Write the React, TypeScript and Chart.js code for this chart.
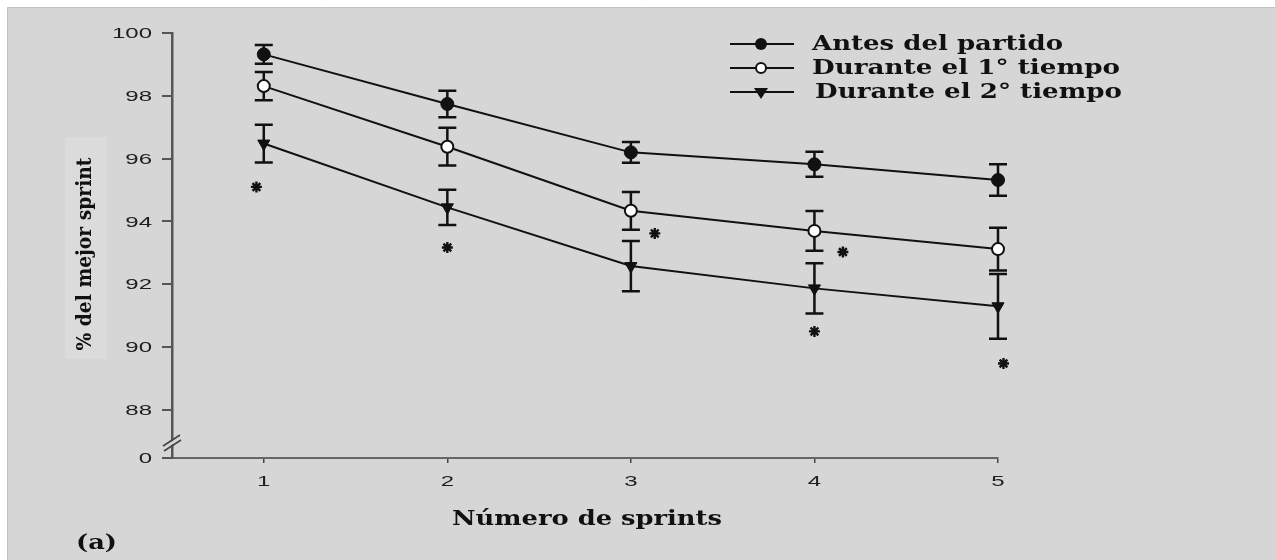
import { useEffect, useRef } from 'react';
import { Chart, registerables } from 'chart.js';

Chart.register(...registerables);

// ---- data ----
const sprints = [1, 2, 3, 4, 5];
const antesMean = [99.32, 97.74, 96.2, 95.82, 95.32];
const antesErr = [0.3, 0.42, 0.33, 0.4, 0.5];
const primerMean = [98.31, 96.38, 94.34, 93.7, 93.12];
const primerErr = [0.45, 0.6, 0.6, 0.63, 0.68];
const segundoMean = [96.48, 94.45, 92.58, 91.87, 91.3];
const segundoErr = [0.6, 0.56, 0.8, 0.8, 1.03];
const asteriskX = [0.96, 2.0, 3.13, 4.155, 4.0, 5.11, 5.03];
const asteriskY = [95.1, 93.17, 93.62, 93.03, 90.5, 92.7, 89.48];
const yTickValues = [88, 90, 92, 94, 96, 98, 100];
const yBreakValue = 86.47; // bottom of the broken axis, labelled "0"
const yBreakLabel = '0';
const xTickValues = [1, 2, 3, 4, 5];
const seriesLabels = ['Antes del partido', 'Durante el 1° tiempo', 'Durante el 2° tiempo'];
const xTitle = 'Número de sprints';
const yTitle = '% del mejor sprint';
const panelLabel = '(a)';

const BG = '#d6d6d6';
const SERIF = '"DejaVu Serif", "Liberation Serif", serif';
const SANS = '"Liberation Sans", Arial, sans-serif';

function drawStretched(
  ctx: CanvasRenderingContext2D,
  text: string,
  x: number,
  y: number,
  font: string,
  opts: { width?: number; scale?: number; align?: CanvasTextAlign; rotate?: number; color?: string }
) {
  ctx.save();
  ctx.font = font;
  const w = ctx.measureText(text).width;
  const s = opts.width ? opts.width / w : opts.scale || 1;
  ctx.translate(x, y);
  if (opts.rotate) ctx.rotate(opts.rotate);
  ctx.scale(s, 1);
  ctx.textAlign = opts.align || 'left';
  ctx.textBaseline = 'middle';
  ctx.fillStyle = opts.color || '#111';
  ctx.fillText(text, 0, 0);
  ctx.restore();
}

const decorPlugin = {
  id: 'decor',
  beforeDraw(chart: any) {
    const ctx: CanvasRenderingContext2D = chart.ctx;
    ctx.save();
    ctx.fillStyle = '#ffffff';
    ctx.fillRect(0, 0, chart.width, chart.height);
    ctx.fillStyle = BG;
    ctx.fillRect(7, 7, chart.width - 7, chart.height - 7);
    ctx.strokeStyle = '#c2c2c2';
    ctx.lineWidth = 1;
    ctx.beginPath();
    ctx.moveTo(7.5, chart.height);
    ctx.lineTo(7.5, 7.5);
    ctx.lineTo(chart.width, 7.5);
    ctx.stroke();
    // light box behind y title
    ctx.fillStyle = '#dbdbdb';
    ctx.fillRect(65, 137, 42, 222);
    ctx.restore();
  },
  beforeDatasetsDraw(chart: any) {
    const ctx: CanvasRenderingContext2D = chart.ctx;
    const xs = chart.scales.x;
    const ys = chart.scales.y;
    const groups = [
      [antesMean, antesErr],
      [primerMean, primerErr],
      [segundoMean, segundoErr],
    ];
    ctx.save();
    ctx.strokeStyle = '#111';
    ctx.lineWidth = 2.5;
    groups.forEach(([m, e]) => {
      sprints.forEach((sx, i) => {
        const px = xs.getPixelForValue(sx);
        const top = ys.getPixelForValue(m[i] + e[i]);
        const bot = ys.getPixelForValue(m[i] - e[i]);
        ctx.beginPath();
        ctx.moveTo(px, top);
        ctx.lineTo(px, bot);
        ctx.moveTo(px - 9, top);
        ctx.lineTo(px + 9, top);
        ctx.moveTo(px - 9, bot);
        ctx.lineTo(px + 9, bot);
        ctx.stroke();
      });
    });
    ctx.restore();
  },
  afterDraw(chart: any) {
    const ctx: CanvasRenderingContext2D = chart.ctx;
    const xs = chart.scales.x;
    const ys = chart.scales.y;
    const area = chart.chartArea;

    // y tick labels
    const yLabels = [yBreakLabel, ...yTickValues.map(String)];
    const yVals = [yBreakValue, ...yTickValues];
    yVals.forEach((v, i) => {
      drawStretched(ctx, yLabels[i], area.left - 20, ys.getPixelForValue(v) + 1, `15px ${SANS}`, {
        scale: 1.6,
        align: 'right',
        color: '#1e1e1e',
      });
    });
    // x tick labels
    xTickValues.forEach((v) => {
      drawStretched(ctx, String(v), xs.getPixelForValue(v), area.bottom + 24, `15px ${SANS}`, {
        scale: 1.6,
        align: 'center',
        color: '#1e1e1e',
      });
    });

    // axis break marks
    ctx.save();
    const ax = area.left;
    ctx.strokeStyle = BG;
    ctx.lineWidth = 3;
    ctx.beginPath();
    ctx.moveTo(ax - 8, 448);
    ctx.lineTo(ax + 8, 438);
    ctx.stroke();
    ctx.strokeStyle = '#444';
    ctx.lineWidth = 1.6;
    ctx.beginPath();
    ctx.moveTo(ax - 9, 446);
    ctx.lineTo(ax + 8, 435);
    ctx.moveTo(ax - 8, 451);
    ctx.lineTo(ax + 9, 440);
    ctx.stroke();
    ctx.restore();

    // titles
    drawStretched(ctx, xTitle, 452, 520, `bold 20px ${SERIF}`, { width: 270 });
    drawStretched(ctx, yTitle, 86, 254, `bold 20px ${SERIF}`, {
      width: 193,
      align: 'center',
      rotate: -Math.PI / 2,
    });
    drawStretched(ctx, panelLabel, 76, 544, `bold 20px ${SERIF}`, { width: 41 });

    // legend
    const rows = [44, 68, 92];
    const textX = [812, 812, 815];
    const textW = [251, 308, 307];
    rows.forEach((ry, i) => {
      ctx.save();
      ctx.strokeStyle = '#111';
      ctx.lineWidth = 2;
      ctx.beginPath();
      ctx.moveTo(730, ry);
      ctx.lineTo(794, ry);
      ctx.stroke();
      ctx.fillStyle = '#111';
      ctx.beginPath();
      if (i === 0) {
        ctx.arc(761, ry, 6, 0, Math.PI * 2);
        ctx.fill();
      } else if (i === 1) {
        ctx.fillStyle = '#fff';
        ctx.arc(761, ry, 5, 0, Math.PI * 2);
        ctx.fill();
        ctx.lineWidth = 2;
        ctx.stroke();
      } else {
        ctx.moveTo(754, ry - 4);
        ctx.lineTo(768, ry - 4);
        ctx.lineTo(761, ry + 7);
        ctx.closePath();
        ctx.fill();
      }
      ctx.restore();
      drawStretched(ctx, seriesLabels[i], textX[i], ry + 1, `bold 21px ${SERIF}`, { width: textW[i] });
    });
  },
};

export default function App() {
  const ref = useRef<HTMLCanvasElement | null>(null);
  useEffect(() => {
    if (!ref.current) return;
    const common = {
      borderColor: '#111',
      borderWidth: 2,
      pointBorderColor: '#111',
      tension: 0,
      clip: false as any,
    };
    const chart = new Chart(ref.current, {
      type: 'line',
      data: {
        datasets: [
          {
            ...common,
            label: seriesLabels[0],
            data: sprints.map((x, i) => ({ x, y: antesMean[i] })),
            pointStyle: 'circle',
            pointRadius: 6.5,
            pointBackgroundColor: '#111',
            pointBorderWidth: 1,
          },
          {
            ...common,
            label: seriesLabels[1],
            data: sprints.map((x, i) => ({ x, y: primerMean[i] })),
            pointStyle: 'circle',
            pointRadius: 6,
            pointBackgroundColor: '#ffffff',
            pointBorderWidth: 2,
          },
          {
            ...common,
            label: seriesLabels[2],
            data: sprints.map((x, i) => ({ x, y: segundoMean[i] })),
            pointStyle: 'triangle',
            pointRotation: 180,
            pointRadius: 7,
            pointBackgroundColor: '#111',
            pointBorderWidth: 1,
          },
          {
            type: 'scatter',
            label: 'sig',
            data: asteriskX.map((x, i) => ({ x, y: asteriskY[i] })),
            pointStyle: 'star',
            pointRadius: 5.5,
            borderColor: '#111',
            borderWidth: 2.4,
            showLine: false,
            clip: false as any,
          } as any,
        ],
      },
      options: {
        animation: false,
        responsive: false,
        devicePixelRatio: 1,
        layout: { padding: { left: 112, right: 277, top: 33, bottom: 72 } },
        plugins: { legend: { display: false }, tooltip: { enabled: false } },
        scales: {
          x: {
            type: 'linear',
            min: 0.5,
            max: 5,
            afterBuildTicks: (s: any) => {
              s.ticks = xTickValues.map((v) => ({ value: v }));
            },
            afterFit: (s: any) => {
              s.height = 30;
            },
            ticks: { display: false },
            grid: { drawOnChartArea: false, drawTicks: true, tickLength: 5, color: '#444', lineWidth: 1.5 },
            border: { display: true, color: '#666', width: 2 },
          },
          y: {
            type: 'linear',
            min: yBreakValue,
            max: 100,
            afterBuildTicks: (s: any) => {
              s.ticks = [yBreakValue, ...yTickValues].map((v) => ({ value: v }));
            },
            afterFit: (s: any) => {
              s.width = 60;
            },
            ticks: { display: false },
            grid: { drawOnChartArea: false, drawTicks: true, tickLength: 10, color: '#555', lineWidth: 2 },
            border: { display: true, color: '#555', width: 2.5 },
          },
        },
      },
      plugins: [decorPlugin],
    } as any);
    return () => chart.destroy();
  }, []);
  return (
    <div style={{ position: 'fixed', left: 0, top: 0, width: 1275, height: 560, background: '#fff' }}>
      <canvas ref={ref} width={1275} height={560} style={{ display: 'block' }} />
    </div>
  );
}
